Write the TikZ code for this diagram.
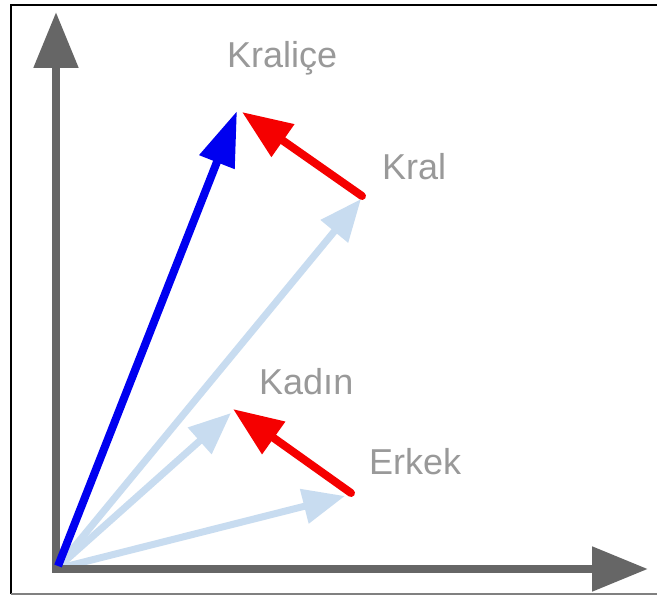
\documentclass[tikz,border=0pt]{standalone}
\usepackage{fontspec}
\setmainfont{Liberation Sans}
\usetikzlibrary{arrows.meta}
\definecolor{axisgray}{HTML}{666666}
\definecolor{labelgray}{HTML}{999999}
\definecolor{lightvec}{HTML}{C8DCF0}
\definecolor{vecblue}{HTML}{0000F0}
\definecolor{vecred}{HTML}{F50000}
\begin{document}
\begin{tikzpicture}[x=1pt,y=-1pt,
  axisline/.style={draw=axisgray,line width=8.5pt,line join=miter,
    arrows={Triangle[length=56pt,width=43pt]-Triangle[length=56pt,width=43pt]}},
  lightarrow/.style={draw=lightvec,line width=7pt,
    -{Triangle[length=42pt,width=34pt]}},
  bluearrow/.style={draw=vecblue,line width=8pt,
    -{Triangle[length=55pt,width=36pt]}},
  redarrow/.style={draw=vecred,line width=8pt,line cap=round,
    -{Triangle[length=50pt,width=38pt]}},
  lbl/.style={text=labelgray,font=\fontsize{36pt}{40pt}\selectfont,anchor=base west,inner sep=0pt}]
\useasboundingbox (0,0) rectangle (657,596);
\fill[white] (0,0) rectangle (657,596);
% frame
\draw[black,line width=2.5pt] (11,594) -- (11,5) -- (657,5);
\draw[gray,line width=2pt] (11,594) -- (657,594);
% points
\coordinate (O) at (56,569);
\coordinate (Ytip) at (56,12);
\coordinate (Xtip) at (648,569);
\coordinate (Queen) at (237,111);
\coordinate (King) at (362,196);
\coordinate (Woman) at (233,409);
\coordinate (Man) at (351,493);
% light vectors
\draw[lightarrow] (O) -- (361,199);
\draw[lightarrow] (O) -- (231,413);
\draw[lightarrow] (O) -- (345,496);
% axes
\draw[axisline] (Ytip) -- (O) -- (Xtip);
% blue and red vectors
\draw[bluearrow] (58,566) -- (Queen);
\draw[redarrow] (King) -- (242,112);
\draw[redarrow] (Man) -- (Woman);
% labels
\node[lbl] (lqueen) at (227,68) {Kraliçe};
\node[lbl] (lking) at (382,180) {Kral};
\node[lbl] (lwoman) at (259,395) {Kadın};
\node[lbl] (lman) at (369,475) {Erkek};
\end{tikzpicture}
\end{document}
